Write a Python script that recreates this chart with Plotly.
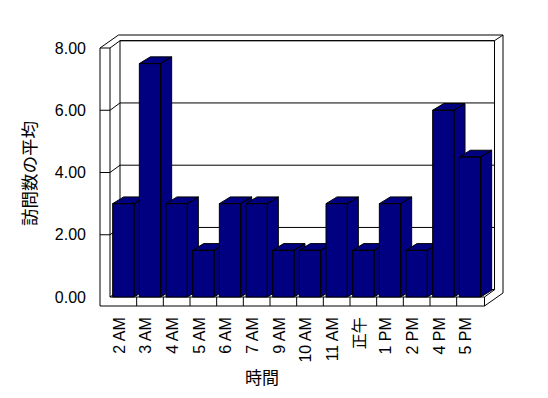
import plotly.graph_objects as go

# ---- data ----
categories = ["2 AM", "3 AM", "4 AM", "5 AM", "6 AM", "7 AM", "9 AM", "10 AM",
              "11 AM", "正午", "1 PM", "2 PM", "4 PM", "5 PM"]
avg_visits = [3, 7.5, 3, 1.5, 3, 3, 1.5, 1.5, 3, 1.5, 3, 1.5, 6, 4.5]
y_ticks = [0, 2, 4, 6, 8]
x_title = "時間"
y_title = "訪問数の平均"

# ---- geometry (pixel layout helpers, in page pixels) ----
FIG_W, FIG_H = 548, 398
PAGE_OFF = 8                                # default body margin of the page
PL, PR, PT, PB = 90, 520, 20, 310          # plot area in page pixels
U = 26.667                                  # px per category
V = 31.125                                  # px per value unit
X0PX, Y0PX = 110.0, 297.0                   # page pixel of (cat -0.5, value 0)


def px2x(px):
    return (px - X0PX) / U - 0.5


def py2y(py):
    return (Y0PX - py) / V


DW = (10 / U, 7.3 / V)      # depth to back wall front face
DB = (18.5 / U, 13 / V)     # depth to back wall back face
DBAR = (11 / U, 6.7 / V)    # bar depth
XL_OUT = px2x(100)
XL_IN = -0.5
XR = px2x(484.5)
YTOP = y_ticks[-1]
YFB = py2y(306)
BAR_W = 0.8
NAVY = "#000080"


def path(pts, close=False):
    s = "M " + " L ".join(f"{x:.4f},{y:.4f}" for x, y in pts)
    return s + (" Z" if close else "")


shapes = []
line = dict(color="black", width=1)
shapes.append(dict(type="path", xref="x", yref="y", layer="below", line=line, fillcolor="white",
                   path=path([(XL_OUT, YFB), (XL_OUT, YTOP), (XL_OUT + DB[0], YTOP + DB[1]),
                              (XR + DB[0], YTOP + DB[1]), (XR + DB[0], YFB + DB[1]), (XR, YFB)], True)))
shapes.append(dict(type="path", xref="x", yref="y", layer="below", line=line, fillcolor="white",
                   path=path([(XL_IN + DW[0], DW[1]), (XR + DW[0], DW[1]),
                              (XR + DW[0], YTOP + DW[1]), (XL_IN + DW[0], YTOP + DW[1])], True)))
shapes.append(dict(type="path", xref="x", yref="y", layer="below", line=line,
                   path=path([(XL_IN, 0), (XL_IN, YTOP)])))
for v in y_ticks:
    pts = [(XL_IN, v), (XL_IN + DW[0], v + DW[1]), (XR + DW[0], v + DW[1])]
    if v != 0:
        pts = [(XL_OUT, v)] + pts
    shapes.append(dict(type="path", xref="x", yref="y", layer="below", line=line, path=path(pts)))
shapes.append(dict(type="path", xref="x", yref="y", layer="below", line=line,
                   path=path([(XR + DW[0], YTOP + DW[1]), (XR + DB[0], YTOP + DB[1])])))
shapes.append(dict(type="path", xref="x", yref="y", layer="below", line=line,
                   path=path([(XL_IN, 0), (XR, 0), (XR, YFB)])))
shapes.append(dict(type="path", xref="x", yref="y", layer="below", line=line,
                   path=path([(XR, 0), (XR + DW[0], DW[1])])))
for c in range(len(categories) - 1):
    shapes.append(dict(type="path", xref="x", yref="y", layer="below", line=line,
                       path=path([(c + 0.5, 0), (c + 0.5, YFB)])))

fig = go.Figure()
for i, v in enumerate(avg_visits):
    xl, xr = i - BAR_W / 2, i + BAR_W / 2
    dx, dy = DBAR
    xs = [xl, xr, xr, xl, xl, None,
          xl, xr, xr + dx, xl + dx, xl, None,
          xr, xr + dx, xr + dx, xr, xr]
    ys = [0, 0, v, v, 0, None,
          v, v, v + dy, v + dy, v, None,
          0, dy, v + dy, v, 0]
    fig.add_trace(go.Scatter(x=xs, y=ys, mode="lines", fill="toself", fillcolor=NAVY,
                             line=dict(color="black", width=1), hoverinfo="skip",
                             showlegend=False))

FONT = dict(family="Liberation Sans, Noto Sans CJK JP, sans-serif", size=16, color="black")
YTFONT = dict(family="Noto Sans CJK JP, sans-serif", size=17.5, color="black")
XTFONT = dict(family="Noto Sans CJK JP, sans-serif", size=17, color="black")
W = PR - PL
H = PB - PT
fig.update_layout(
    width=FIG_W, height=FIG_H,
    margin=dict(l=PL - PAGE_OFF, r=FIG_W - PR + PAGE_OFF, t=PT - PAGE_OFF,
                b=FIG_H - PB + PAGE_OFF, pad=0),
    paper_bgcolor="white", plot_bgcolor="white",
    font=FONT, shapes=shapes, showlegend=False,
    xaxis=dict(range=[px2x(PL), px2x(PR)], tickmode="array",
               tickvals=list(range(len(categories))), ticktext=categories,
               tickangle=-90, showgrid=False, zeroline=False, showline=False,
               ticks="", ticklabelstandoff=3, ticklabelshift=-4, fixedrange=True),
    yaxis=dict(range=[py2y(PB), py2y(PT)], tickmode="array", tickvals=y_ticks,
               ticktext=[f"{v:.2f}" for v in y_ticks], showgrid=False, zeroline=False,
               showline=False, ticks="", ticklabelstandoff=3, fixedrange=True),
    annotations=[
        dict(text=y_title, xref="paper", yref="paper", x=(28 - PL) / W, y=(PB - 173) / H,
             xanchor="center", yanchor="middle", textangle=-90, showarrow=False, font=YTFONT),
        dict(text=x_title, xref="paper", yref="paper", x=(261.7 - PL) / W, y=(PB - 376) / H,
             xanchor="center", yanchor="middle", showarrow=False, font=XTFONT),
    ],
)

fig.write_html("out.html")
